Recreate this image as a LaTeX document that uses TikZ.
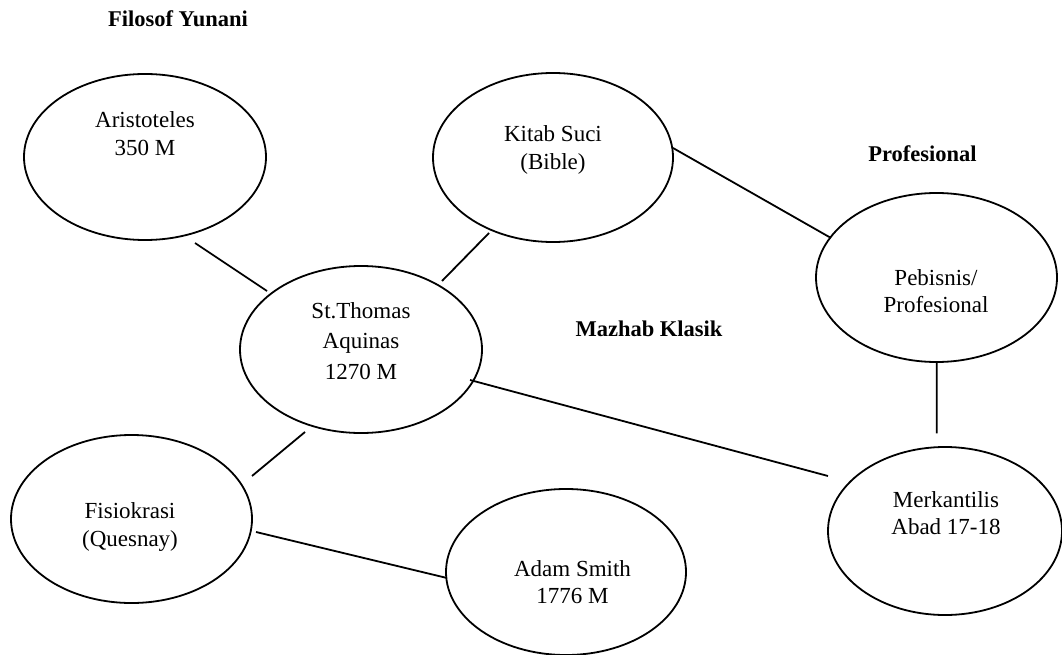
\documentclass[tikz,border=0pt]{standalone}
\usepackage{fontspec}
\setmainfont{Liberation Serif}
\usetikzlibrary{shapes.geometric,calc}
\tikzset{
  oval/.style={draw=black, line width=1.8pt, ellipse, inner sep=0pt},
  lbl/.style={align=center, inner sep=0pt, font=\fontsize{23}{27.5}\selectfont},
  head/.style={inner sep=0pt, anchor=base, font=\fontsize{22.5}{27}\selectfont\bfseries},
  conn/.style={line width=1.8pt, line cap=butt}
}
\begin{document}
\begin{tikzpicture}[x=1pt,y=-1pt]
\useasboundingbox (0,0) rectangle (1062,655);
% ellipses
\node[oval, minimum width=242pt, minimum height=166pt] (arist) at (145,157) {};
\node[oval, minimum width=240pt, minimum height=169pt] (kitab) at (553,157.5) {};
\node[oval, minimum width=242pt, minimum height=167pt] (thomas) at (361,349.5) {};
\node[oval, minimum width=241pt, minimum height=169pt] (peb) at (936.5,277.5) {};
\node[oval, minimum width=241pt, minimum height=168pt] (fisio) at (131.5,519) {};
\node[oval, minimum width=240pt, minimum height=166pt] (adam) at (566,572) {};
\node[oval, minimum width=234pt, minimum height=168pt] (merk) at (945,531) {};
% texts
\node[lbl] (aristT) at (145,133.5) {Aristoteles\\350 M};
\node[lbl] (kitabT) at (553,150) {Kitab Suci\\(Bible)};
\node[lbl, font=\fontsize{23}{30.5}\selectfont] (thomasT) at (361,341) {St.Thomas\\Aquinas\\1270 M};
\node[lbl] (pebT) at (936,291) {Pebisnis/\\Profesional};
\node[lbl] (merkT) at (946,513) {Merkantilis\\Abad 17-18};
\node[lbl] (fisioT) at (130,527) {Fisiokrasi\\(Quesnay)};
\node[lbl] (adamT) at (572.5,582) {Adam Smith\\1776 M};
% headings
\node[head] (hfil) at (178,27) {Filosof Yunani};
\node[head] (hprof) at (922.5,162) {Profesional};
\node[head] (hmaz) at (649,336) {Mazhab Klasik};
% connectors
\draw[conn] ($(arist)+(50,86)$) -- ($(thomas)+(-94,-58.5)$);
\draw[conn] ($(kitab)+(-64,75.5)$) -- ($(thomas)+(81,-68.5)$);
\draw[conn] ($(kitab)+(120,-9.5)$) -- ($(peb)+(-105.5,-39.5)$);
\draw[conn] ($(peb)+(0.3,84.5)$) -- ($(merk)+(-8.3,-97.7)$);
\draw[conn] ($(thomas)+(109,30.5)$) -- ($(merk)+(-117,-55)$);
\draw[conn] ($(thomas)+(-56,82.5)$) -- ($(fisio)+(120.5,-43)$);
\draw[conn] ($(fisio)+(124.5,13)$) -- ($(adam)+(-119,6)$);
\end{tikzpicture}
\end{document}
